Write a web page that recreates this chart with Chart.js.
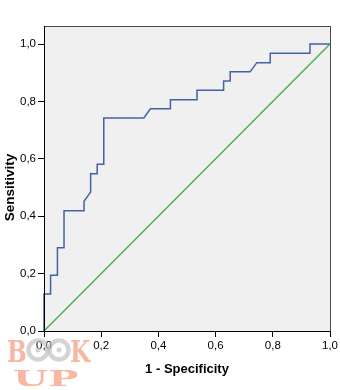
<!DOCTYPE html>
<html>
<head>
<meta charset="utf-8">
<script src="https://cdn.jsdelivr.net/npm/chart.js@4/dist/chart.umd.min.js"></script>
<style>
  html, body { margin: 0; padding: 0; background: #ffffff; }
  #c { display: block; }
</style>
</head>
<body>
<canvas id="c" width="340" height="390"></canvas>
<script>
// ROC curve: 1 - specificity (x) against sensitivity (y)
const falsePositiveRate = [0, 0, 0.023, 0.023, 0.047, 0.047, 0.070, 0.070, 0.140, 0.140, 0.163, 0.163,
  0.186, 0.186, 0.209, 0.209, 0.349, 0.372, 0.442, 0.442, 0.535, 0.535, 0.628, 0.628, 0.651, 0.651,
  0.721, 0.744, 0.791, 0.791, 0.930, 0.930, 1.0];
const sensitivity = [0, 0.129, 0.129, 0.194, 0.194, 0.290, 0.290, 0.419, 0.419, 0.452, 0.484, 0.548,
  0.548, 0.581, 0.581, 0.742, 0.742, 0.774, 0.774, 0.806, 0.806, 0.839, 0.839, 0.871, 0.871, 0.903,
  0.903, 0.935, 0.935, 0.968, 0.968, 1.0, 1.0];

// Reference (chance) diagonal
const referenceX = [0, 1];
const referenceY = [0, 1];

const tickValues = [0, 0.2, 0.4, 0.6, 0.8, 1.0];
const xTitle = '1 - Specificity';
const yTitle = 'Sensitivity';

const FONT = '"Liberation Sans", Arial, sans-serif';
const fmt = v => v.toFixed(1).replace('.', ',');
const fixedTicks = scale => { scale.ticks = tickValues.map(v => ({ value: v })); };

// Grey plot panel that rises above the 1,0 tick, with a thin frame
const panelPlugin = {
  id: 'panel',
  beforeDraw(chart) {
    const { ctx, chartArea: a } = chart;
    ctx.save();
    ctx.fillStyle = '#f0f0f0';
    ctx.fillRect(a.left, 26, a.right - a.left + 1, a.bottom - 26);
    ctx.restore();
  },
  afterDraw(chart) {
    const { ctx, chartArea: a } = chart;
    ctx.save();
    ctx.lineWidth = 1;
    ctx.strokeStyle = '#4a4a4a';
    ctx.beginPath();
    ctx.moveTo(a.left, 26.5);
    ctx.lineTo(a.right + 1, 26.5);
    ctx.moveTo(a.right + 0.5, 26);
    ctx.lineTo(a.right + 0.5, a.bottom);
    ctx.stroke();
    ctx.strokeStyle = '#000000';
    ctx.beginPath();
    ctx.moveTo(a.left + 0.5, 26);
    ctx.lineTo(a.left + 0.5, a.bottom);
    ctx.stroke();
    ctx.restore();
  }
};

// Publisher mark in the lower-left corner
const markPlugin = {
  id: 'mark',
  afterDraw(chart) {
    const ctx = chart.ctx;
    ctx.save();
    ctx.globalAlpha = 0.65;
    ctx.fillStyle = '#f29070';
    ctx.textBaseline = 'alphabetic';
    ctx.save();
    ctx.translate(7, 362);
    ctx.scale(0.9, 1.15);
    ctx.font = 'bold 26px "DejaVu Serif", serif';
    ctx.fillText('B', 0, 0);
    ctx.fillText('K', 70, 0);
    ctx.restore();
    ctx.strokeStyle = '#bdbdbd';
    ctx.fillStyle = '#bdbdbd';
    ctx.lineWidth = 4.5;
    [38, 59].forEach(cx => {
      ctx.beginPath();
      ctx.arc(cx, 350, 9.5, 0, Math.PI * 2);
      ctx.stroke();
      ctx.beginPath();
      ctx.arc(cx, 350, 2.5, 0, Math.PI * 2);
      ctx.fill();
    });
    ctx.fillStyle = '#f29070';
    ctx.translate(13, 386);
    ctx.scale(1.55, 0.85);
    ctx.font = 'bold 26px "DejaVu Serif", serif';
    ctx.fillText('UP', 0, 0);
    ctx.restore();
  }
};

new Chart(document.getElementById('c'), {
  type: 'scatter',
  data: {
    datasets: [
      {
        data: referenceX.map((x, i) => ({ x, y: referenceY[i] })),
        showLine: true,
        borderColor: '#3fae4c',
        borderWidth: 1.3,
        pointRadius: 0,
        clip: false
      },
      {
        data: falsePositiveRate.map((x, i) => ({ x, y: sensitivity[i] })),
        showLine: true,
        borderColor: '#4460a6',
        borderWidth: 1.5,
        pointRadius: 0,
        tension: 0,
        clip: false
      }
    ]
  },
  options: {
    responsive: false,
    animation: false,
    devicePixelRatio: 1,
    layout: { padding: { top: 44, right: 10, bottom: 0, left: 0 } },
    plugins: { legend: { display: false }, tooltip: { enabled: false } },
    scales: {
      x: {
        type: 'linear',
        min: 0,
        max: 1,
        afterBuildTicks: fixedTicks,
        afterFit: s => { s.height = 59; },
        border: { display: true, color: '#000000', width: 1 },
        grid: { display: true, drawOnChartArea: false, drawTicks: true, tickLength: 6, color: '#000000' },
        ticks: { padding: 2, color: '#000000', font: { family: FONT, size: 11.5 }, maxRotation: 0, autoSkip: false, callback: v => fmt(v) },
        title: { display: true, text: xTitle, color: '#000000', font: { family: FONT, size: 13, weight: 'bold' }, padding: { top: 0, bottom: 12.7 } }
      },
      y: {
        type: 'linear',
        min: 0,
        max: 1,
        afterBuildTicks: fixedTicks,
        afterFit: s => { s.width = 44; },
        border: { display: true, color: '#000000', width: 1 },
        grid: { display: true, drawOnChartArea: false, drawTicks: true, tickLength: 6, color: '#000000' },
        ticks: { padding: 2, color: '#000000', font: { family: FONT, size: 11.5 }, autoSkip: false, callback: v => fmt(v) },
        title: { display: true, text: yTitle, color: '#000000', font: { family: FONT, size: 13.5, weight: 'bold' }, padding: { top: 2.5, bottom: 0 } }
      }
    }
  },
  plugins: [panelPlugin, markPlugin]
});
</script>
</body>
</html>
